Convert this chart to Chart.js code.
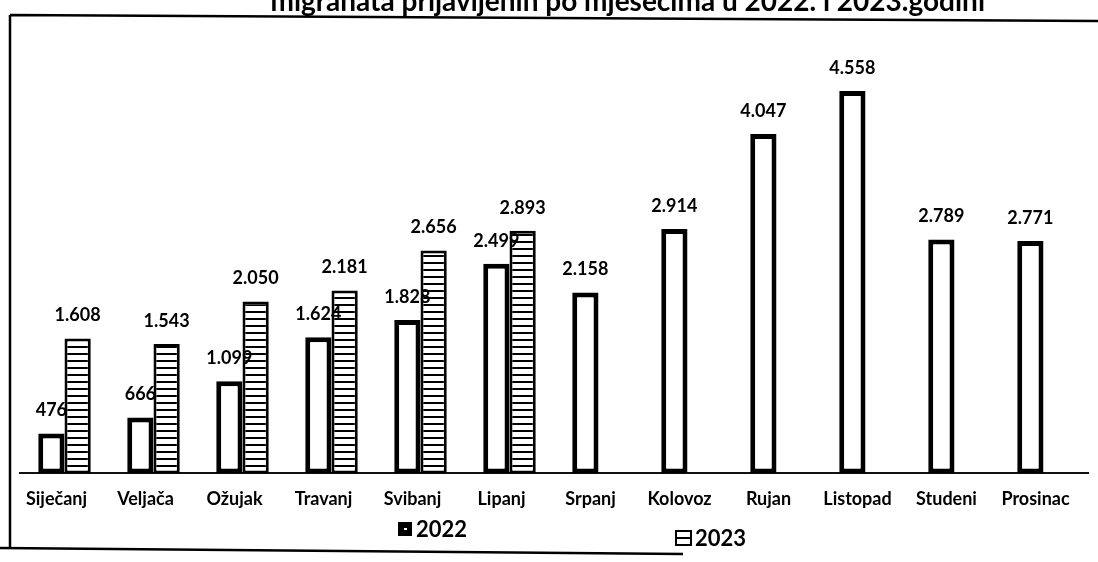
<!DOCTYPE html>
<html>
<head>
<meta charset="utf-8">
<script src="https://cdn.jsdelivr.net/npm/chart.js@4/dist/chart.umd.min.js"></script>
<style>
  html, body { margin: 0; padding: 0; background: #fff; }
  canvas { display: block; }
</style>
</head>
<body>
<canvas id="migrantsChart" width="1098" height="562"></canvas>
<script>
const months = ['Siječanj', 'Veljača', 'Ožujak', 'Travanj', 'Svibanj', 'Lipanj',
  'Srpanj', 'Kolovoz', 'Rujan', 'Listopad', 'Studeni', 'Prosinac'];
const values2022 = [476, 666, 1099, 1624, 1828, 2499, 2158, 2914, 4047, 4558, 2789, 2771];
const values2023 = [1608, 1543, 2050, 2181, 2656, 2893, null, null, null, null, null, null];
const seriesNames = ['2022', '2023'];
const titleText = 'migranata prijavljenih po mjesecima u 2022. i 2023.godini';

const FONT = 'Lato, "Open Sans", sans-serif';

function stripePattern() {
  const c = document.createElement('canvas');
  c.width = 7;
  c.height = 7;
  const x = c.getContext('2d');
  x.fillStyle = '#fff';
  x.fillRect(0, 0, 7, 7);
  x.fillStyle = '#000';
  x.fillRect(0, 3, 7, 2);
  return x.createPattern(c, 'repeat');
}

function fmt(v) {
  return String(v).replace(/\B(?=(\d{3})+(?!\d))/g, '.');
}

// value labels above every bar
const valueLabels = {
  id: 'valueLabels',
  afterDatasetsDraw(chart) {
    const ctx = chart.ctx;
    ctx.save();
    ctx.font = 'bold 18px ' + FONT;
    ctx.fillStyle = '#000';
    ctx.textAlign = 'center';
    ctx.textBaseline = 'middle';
    chart.data.datasets.forEach((ds, i) => {
      chart.getDatasetMeta(i).data.forEach((bar, j) => {
        const v = ds.data[j];
        if (v == null) return;
        ctx.fillText(fmt(v), bar.x, bar.y - 23);
      });
    });
    ctx.restore();
  }
};

// scanned page frame, cut-off title and the legend
const decorations = {
  id: 'decorations',
  afterDraw(chart) {
    const ctx = chart.ctx;
    ctx.save();
    ctx.strokeStyle = '#000';
    ctx.lineWidth = 2.5;
    ctx.beginPath();
    ctx.moveTo(10, 15); ctx.lineTo(1098, 21);
    ctx.moveTo(10, 15); ctx.lineTo(10, 548);
    ctx.moveTo(0, 548); ctx.lineTo(683, 554);
    ctx.stroke();

    ctx.fillStyle = '#000';
    ctx.font = 'bold 28px ' + FONT;
    ctx.textAlign = 'right';
    ctx.textBaseline = 'alphabetic';
    ctx.fillText(titleText, 985, 11);

    // legend
    ctx.font = 'bold 22px ' + FONT;
    ctx.textAlign = 'left';
    ctx.textBaseline = 'middle';
    ctx.fillRect(398, 522, 14, 14);
    ctx.fillStyle = '#fff';
    ctx.fillRect(404, 528, 3, 2);
    ctx.fillStyle = '#000';
    ctx.fillText(seriesNames[0], 416, 530);

    ctx.lineWidth = 2;
    ctx.strokeRect(676, 531, 15, 14);
    ctx.beginPath();
    ctx.moveTo(676, 538); ctx.lineTo(691, 538);
    ctx.stroke();
    ctx.fillText(seriesNames[1], 695, 539);
    ctx.restore();
  }
};

new Chart(document.getElementById('migrantsChart'), {
  type: 'bar',
  data: {
    labels: months,
    datasets: [{
      label: seriesNames[0],
      data: values2022,
      backgroundColor: '#fff',
      borderColor: '#000',
      borderWidth: 5,
      borderSkipped: false
    }, {
      label: seriesNames[1],
      data: values2023,
      backgroundColor: stripePattern(),
      borderColor: '#000',
      borderWidth: 3,
      borderSkipped: false
    }]
  },
  options: {
    responsive: false,
    animation: false,
    devicePixelRatio: 1,
    layout: { padding: { left: 20, right: 10, top: 54, bottom: 45 } },
    datasets: { bar: { categoryPercentage: 0.59, barPercentage: 1 } },
    plugins: {
      legend: { display: false },
      tooltip: { enabled: false }
    },
    scales: {
      x: {
        grid: { display: false },
        border: { display: true, color: '#111', width: 2 },
        ticks: {
          color: '#000',
          font: { family: FONT, weight: 'bold', size: 18 },
          padding: 7,
          labelOffset: -8,
          maxRotation: 0,
          autoSkip: false
        }
      },
      y: { display: false, min: 0, max: 5000 }
    }
  },
  plugins: [valueLabels, decorations]
});
</script>
</body>
</html>
